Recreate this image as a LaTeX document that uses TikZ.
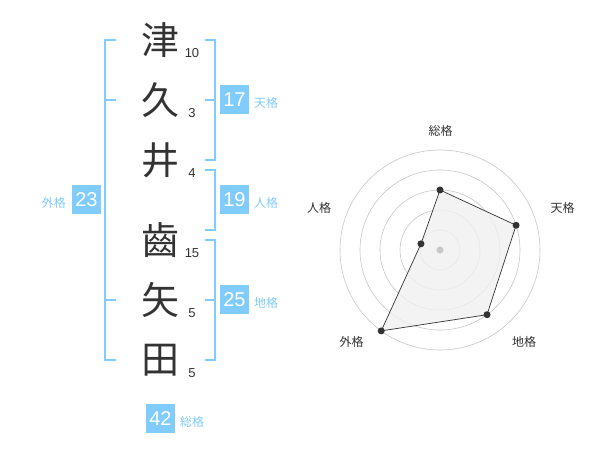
\documentclass[tikz,border=0pt]{standalone}
\usepackage{fontspec}
\setmainfont{Liberation Sans}
\newfontfamily\jp{Noto Sans CJK JP}
\usepackage{tikz}
\usetikzlibrary{calc}
\definecolor{kakublue}{RGB}{128,204,255}
\definecolor{inkgray}{RGB}{51,51,51}
\tikzset{
  kanji/.style={text=inkgray,font=\jp\fontsize{38}{38}\selectfont,inner sep=0pt},
  strokes/.style={text=inkgray,font=\fontsize{13}{13}\selectfont,inner sep=0pt},
  kakubox/.style={fill=kakublue,text=white,minimum size=29pt,inner sep=0pt,font=\fontsize{20}{20}\selectfont},
  kakulabel/.style={text=kakublue,font=\jp\fontsize{12}{12}\selectfont,inner sep=0pt},
  bracket/.style={draw=kakublue,line width=2pt},
  radarlabel/.style={text=inkgray,font=\jp\fontsize{12}{12}\selectfont,inner sep=0pt},
  ring/.style={draw=black!22,line width=0.6pt}
}
\begin{document}
\begin{tikzpicture}[x=1pt,y=1pt]
\useasboundingbox (0,0) rectangle (600,470);

\node[kanji](k1) at (160,430){津};
\node[kanji](k2) at (160,370){久};
\node[kanji](k3) at (160,310){井};
\node[kanji](k4) at (160,230){齒};
\node[kanji](k5) at (160,170){矢};
\node[kanji](k6) at (160,110){田};
\node[strokes](s1) at (192,417){10};
\node[strokes](s2) at (192,357){3};
\node[strokes](s3) at (192,297){4};
\node[strokes](s4) at (192,217){15};
\node[strokes](s5) at (192,157){5};
\node[strokes](s6) at (192,97){5};

\draw[bracket](116,430)--(105,430)--(105,110)--(116,110);
\draw[bracket](105,370)--(116,370);
\draw[bracket](105,170)--(116,170);
\draw[bracket](205,430)--(215,430)--(215,310)--(205,310);
\draw[bracket](205,370)--(215,370);
\draw[bracket](205,300)--(215,300)--(215,240)--(205,240);
\draw[bracket](205,230)--(215,230)--(215,110)--(205,110);
\draw[bracket](205,170)--(215,170);

\node[kakubox](ten) at (234.5,370){17};
\node[kakubox](jin) at (234.5,270){19};
\node[kakubox](chi) at (234.5,170){25};
\node[kakubox](gai) at (86.5,270){23};
\node[kakubox](sou) at (160.5,51){42};
\node[kakulabel,anchor=west](tenl) at (254,367){天格};
\node[kakulabel,anchor=west](jinl) at (254,267){人格};
\node[kakulabel,anchor=west](chil) at (254,167){地格};
\node[kakulabel,anchor=east](gail) at (66,267){外格};
\node[kakulabel,anchor=west](soul) at (180,48){総格};

\coordinate (c) at (440,220);
\foreach \r in {20,40,60,80,100}
  \draw[ring](c) circle(\r);
\coordinate (p1) at ($(c)+(90:60)$);
\coordinate (p2) at ($(c)+(18:80)$);
\coordinate (p3) at ($(c)+(-54:80)$);
\coordinate (p4) at ($(c)+(-126:100)$);
\coordinate (p5) at ($(c)+(162:20)$);
\filldraw[fill=black!6,fill opacity=0.8,draw=inkgray,line width=0.7pt](p1)--(p2)--(p3)--(p4)--(p5)--cycle;
\fill[black!22](c) circle(3.5);
\foreach \p in {p1,p2,p3,p4,p5}
  \fill[inkgray](\p) circle(3.5);
\node[radarlabel](rsou) at (440.5,339){総格};
\node[radarlabel](rten) at (562.5,262){天格};
\node[radarlabel](rjin) at (319,262){人格};
\node[radarlabel](rgai) at (351.5,128.5){外格};
\node[radarlabel](rchi) at (524,128.5){地格};

\end{tikzpicture}
\end{document}
